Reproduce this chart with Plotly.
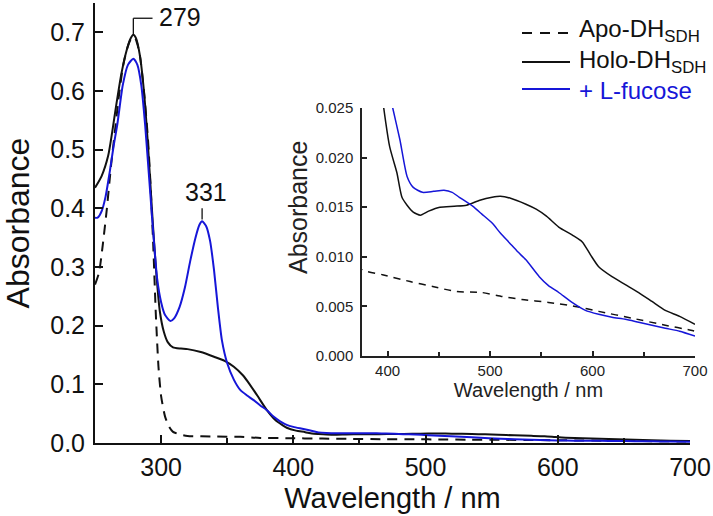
import plotly.graph_objects as go

# ---------------- data ----------------
apo_wl = [250, 253, 256, 259, 262, 265, 268, 271, 274, 277, 280, 282, 284, 287, 290, 292, 294,
          296, 298, 300, 303, 306, 309, 315, 320, 340, 360, 375, 395, 422, 444, 467, 492, 512,
          531, 557, 583, 606, 639, 671, 696, 700]
apo_abs = [0.27, 0.29, 0.34, 0.40, 0.47, 0.53, 0.59, 0.64, 0.67, 0.688, 0.692, 0.68, 0.66, 0.60,
           0.52, 0.44, 0.34, 0.22, 0.13, 0.08, 0.045, 0.028, 0.019, 0.014, 0.012, 0.011, 0.0105,
           0.0087, 0.0082, 0.0075, 0.0070, 0.0065, 0.0064, 0.0060, 0.0057, 0.0054, 0.0050,
           0.0045, 0.0038, 0.0031, 0.0026, 0.0025]

holo_wl = [250, 255, 260, 263, 266, 270, 274, 277, 279, 281, 284, 287, 290, 293, 296, 299, 302,
           305, 309, 315, 320, 330, 340, 348, 355, 362, 367, 373, 380, 386, 392, 395, 402, 409,
           414, 419, 425, 432, 440, 451, 465, 477, 490, 502, 510, 520, 535, 545, 555, 567, 580,
           590, 598, 606, 619, 632, 645, 658, 671, 685, 700]
holo_abs = [0.435, 0.455, 0.49, 0.53, 0.575, 0.63, 0.67, 0.69, 0.696, 0.69, 0.66, 0.60, 0.51,
            0.40, 0.30, 0.225, 0.19, 0.172, 0.163, 0.161, 0.160, 0.155, 0.147, 0.140, 0.130,
            0.115, 0.100, 0.080, 0.056, 0.040, 0.030, 0.026, 0.0211, 0.0185, 0.0160, 0.0152,
            0.0145, 0.0142, 0.0146, 0.0150, 0.0151, 0.0152, 0.0157, 0.0160, 0.0161, 0.0159,
            0.0153, 0.0148, 0.0141, 0.0130, 0.0122, 0.0115, 0.0102, 0.0090, 0.0080, 0.0072,
            0.0064, 0.0055, 0.0046, 0.0040, 0.0032]

fuc_wl = [250, 252, 255, 258, 261, 264, 267, 271, 275, 279, 282, 285, 288, 291, 294, 297, 300,
          303, 307, 310, 314, 318, 322, 326, 329, 331, 334, 337, 340, 343, 346, 350, 355, 360,
          365, 370, 375, 380, 385, 390, 395, 400, 405, 412, 419, 425, 434, 445, 455, 463, 470,
          483, 492, 502, 510, 519, 527, 535, 548, 557, 567, 580, 593, 606, 619, 632, 645, 658,
          671, 685, 700]
fuc_abs = [0.384, 0.384, 0.395, 0.42, 0.46, 0.505, 0.545, 0.61, 0.645, 0.655, 0.645, 0.61,
           0.54, 0.45, 0.36, 0.28, 0.24, 0.218, 0.208, 0.213, 0.232, 0.265, 0.31, 0.35, 0.372,
           0.378, 0.37, 0.345, 0.295, 0.23, 0.175, 0.136, 0.108, 0.090, 0.081, 0.073, 0.064,
           0.056, 0.045, 0.037, 0.031, 0.0275, 0.025, 0.0218, 0.0181, 0.0170, 0.0165, 0.0166,
           0.0167, 0.0165, 0.0160, 0.0151, 0.0143, 0.0134, 0.0124, 0.0114, 0.0105, 0.0097,
           0.0080, 0.0071, 0.0064, 0.0054, 0.0046, 0.0042, 0.0039, 0.0037, 0.0034, 0.0031,
           0.0028, 0.0025, 0.0020]

series_names = ["Apo-DH<sub>SDH</sub>", "Holo-DH<sub>SDH</sub>", "+ L-fucose"]
main_xticks = [300, 400, 500, 600, 700]
inset_xticks = [400, 500, 600, 700]

# ---------------- styling ----------------
FONT = "Liberation Sans, Arial, sans-serif"
BLACK = "#111111"
BLUE = "#1616d8"
W, H = 713, 516
L, R, T, B = 95, 10, 3, 73
plot_w = W - L - R
plot_h = H - T - B

def px_x(p):
    return (p - L) / plot_w

def px_y(p):
    return (H - B - p) / plot_h

fig = go.Figure()
styles = [dict(color=BLACK, width=2, dash="10px,7px"),
          dict(color=BLACK, width=2),
          dict(color=BLUE, width=2)]
data = [(apo_wl, apo_abs), (holo_wl, holo_abs), (fuc_wl, fuc_abs)]
for (wl, ab), name, st in zip(data, series_names, styles):
    fig.add_trace(go.Scatter(x=wl, y=ab, name=name, mode="lines", showlegend=False,
                             line=dict(shape="spline", smoothing=0.6, **st),
                             xaxis="x", yaxis="y"))
inset_styles = [dict(color=BLACK, width=1.5, dash="7px,6px"),
                dict(color=BLACK, width=1.5),
                dict(color=BLUE, width=1.5)]
for (wl, ab), st in zip(data, inset_styles):
    fig.add_trace(go.Scatter(x=wl, y=ab, mode="lines", showlegend=False,
                             line=dict(shape="spline", smoothing=0.6, **st),
                             xaxis="x2", yaxis="y2"))

# legend (drawn as keys + labels)
leg_line_y = [33, 62, 89]
leg_text_y = [31, 61, 90]
leg_colors = [BLACK, BLACK, BLUE]
leg_dash = ["10px,8px", "solid", "solid"]
for name, ly, ty, col, dsh in zip(series_names, leg_line_y, leg_text_y, leg_colors, leg_dash):
    fig.add_shape(type="line", xref="paper", yref="paper", x0=px_x(522), x1=px_x(570),
                  y0=px_y(ly), y1=px_y(ly), line=dict(color=col, width=2, dash=dsh))
    fig.add_annotation(x=px_x(577), y=px_y(ty), xref="paper", yref="paper", text=name,
                       showarrow=False, xanchor="left", yanchor="middle",
                       font=dict(size=24, color=col, family=FONT))

# peak labels derived from the data
i279 = holo_abs.index(max(holo_abs))
pk1_x, pk1_y = holo_wl[i279], holo_abs[i279]
sub = [(w, a) for w, a in zip(fuc_wl, fuc_abs) if 315 <= w <= 345]
pk2_x, pk2_y = max(sub, key=lambda t: t[1])

fig.add_shape(type="line", xref="x", yref="y", x0=pk1_x, x1=pk1_x, y0=pk1_y, y1=pk1_y + 0.028,
              line=dict(color=BLACK, width=1.3))
fig.add_shape(type="line", xref="x", yref="y", x0=pk1_x, x1=pk1_x + 14.5, y0=pk1_y + 0.028,
              y1=pk1_y + 0.028, line=dict(color=BLACK, width=1.3))
fig.add_shape(type="line", xref="x", yref="y", x0=pk2_x, x1=pk2_x, y0=pk2_y + 0.003,
              y1=pk2_y + 0.022, line=dict(color=BLACK, width=1.3))

fig.add_annotation(x=pk1_x, y=pk1_y, xref="x", yref="y", text=str(pk1_x), showarrow=False,
                   xanchor="left", yanchor="middle", xshift=24, yshift=18,
                   font=dict(size=25, color=BLACK, family=FONT))
fig.add_annotation(x=pk2_x, y=pk2_y, xref="x", yref="y", text=str(pk2_x), showarrow=False,
                   xanchor="center", yanchor="bottom", xshift=4, yshift=13,
                   font=dict(size=25, color=BLACK, family=FONT))
# inset y title
fig.add_annotation(x=px_x(298), y=px_y(208), xref="paper", yref="paper", text="Absorbance",
                   showarrow=False, textangle=-90, font=dict(size=25, color="#222", family=FONT))

main_dom_x = [0, px_x(690)]
fig.update_layout(
    width=W, height=H, margin=dict(l=L, r=R, t=T, b=B, autoexpand=False),
    paper_bgcolor="white", plot_bgcolor="rgba(0,0,0,0)",
    font=dict(family=FONT, color=BLACK),
    showlegend=False,
    xaxis=dict(domain=main_dom_x, range=[250, 700], anchor="y", automargin=False,
               tickmode="array", tickvals=main_xticks, ticks="inside", ticklen=8, tickwidth=2,
               tickcolor=BLACK, showline=True, linewidth=2, linecolor=BLACK, showgrid=False,
               zeroline=False, tickfont=dict(size=25), ticklabelstandoff=1,
               minor=dict(tickvals=[350, 450, 550, 650], ticks="inside", ticklen=5, tickwidth=2,
                          tickcolor=BLACK, showgrid=False),
               title=dict(text="Wavelength / nm", font=dict(size=29), standoff=8)),
    yaxis=dict(domain=[0, 1], range=[0, 0.75], anchor="x", automargin=False,
               tickmode="array", tickvals=[0, 0.1, 0.2, 0.3, 0.4, 0.5, 0.6, 0.7],
               ticktext=["0.0", "0.1", "0.2", "0.3", "0.4", "0.5", "0.6", "0.7"],
               ticks="inside", ticklen=8, tickwidth=2, tickcolor=BLACK,
               showline=True, linewidth=2, linecolor=BLACK, showgrid=False, zeroline=False,
               tickfont=dict(size=25), ticklabelstandoff=3,
               title=dict(text="Absorbance", font=dict(size=32), standoff=19)),
    xaxis2=dict(domain=[px_x(362), px_x(695)], range=[375, 700], anchor="y2", automargin=False,
                tickmode="array", tickvals=inset_xticks, ticks="inside", ticklen=5, tickwidth=1.5,
                tickcolor="#222", showline=True, linewidth=1.5, linecolor="#222", showgrid=False,
                zeroline=False, tickfont=dict(size=15, color="#222"),
                minor=dict(tickvals=[450, 550, 650], ticks="inside", ticklen=4, tickwidth=1.5,
                           tickcolor="#222", showgrid=False),
                title=dict(text="Wavelength / nm", font=dict(size=20, color="#222"), standoff=4)),
    yaxis2=dict(domain=[px_y(356), px_y(108)], range=[0, 0.025], anchor="x2", automargin=False,
                tickmode="array", tickvals=[0, 0.005, 0.01, 0.015, 0.02, 0.025],
                ticktext=["0.000", "0.005", "0.010", "0.015", "0.020", "0.025"],
                ticks="inside", ticklen=5, tickwidth=1.5, tickcolor="#222",
                showline=True, linewidth=1.5, linecolor="#222", showgrid=False, zeroline=False,
                tickfont=dict(size=15, color="#222"), ticklabelstandoff=4),
)

fig.write_html("out.html", config={"displayModeBar": False},
               post_script="document.body.style.margin='0';document.body.style.overflow='hidden';")
